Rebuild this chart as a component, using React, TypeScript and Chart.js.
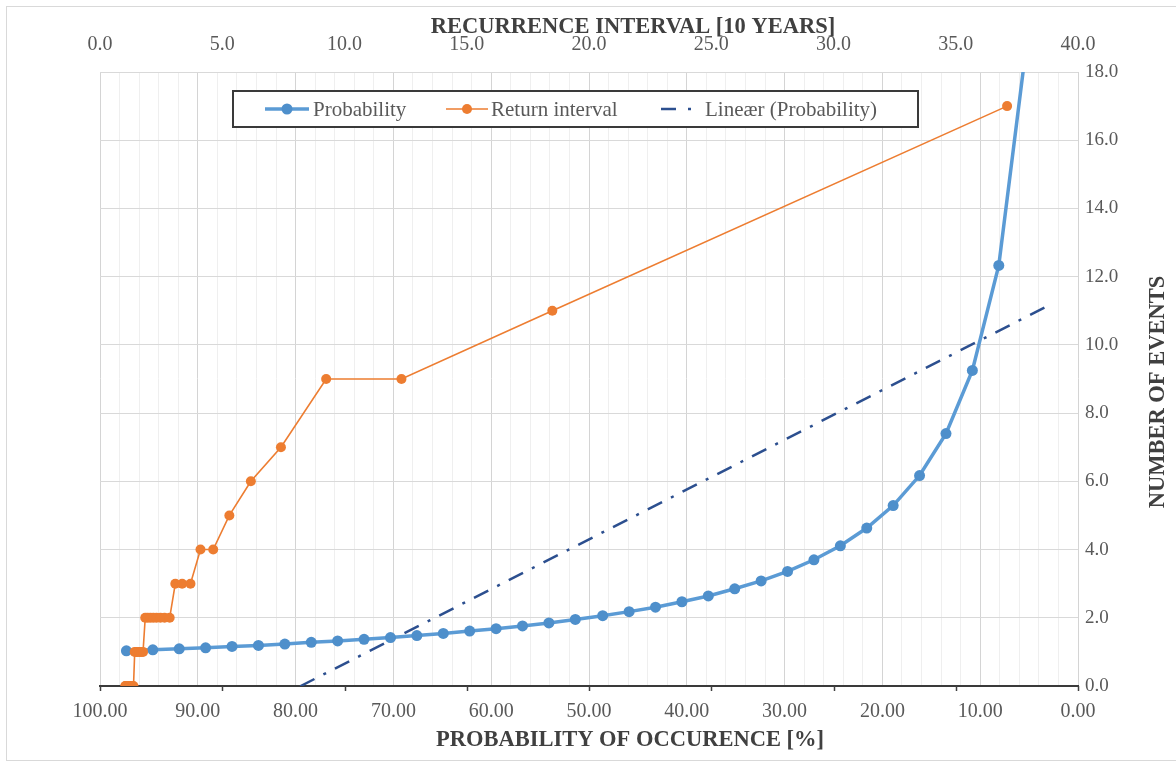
import React, { useEffect, useRef } from 'react';
import { Chart, registerables } from 'chart.js';

Chart.register(...registerables);

// ---- data ----
const probX = [97.3, 94.6, 91.9, 89.2, 86.5, 83.8, 81.1, 78.4, 75.7, 73.0, 70.3, 67.6, 64.9, 62.2, 59.5, 56.8, 54.1, 51.4, 48.6, 45.9, 43.2, 40.5, 37.8, 35.1, 32.4, 29.7, 27.0, 24.3, 21.6, 18.9, 16.2, 13.5, 10.8, 8.1, 5.4, 2.7];
const probY = [1.03, 1.06, 1.09, 1.12, 1.16, 1.19, 1.23, 1.28, 1.32, 1.37, 1.42, 1.48, 1.54, 1.61, 1.68, 1.76, 1.85, 1.95, 2.06, 2.18, 2.31, 2.47, 2.64, 2.85, 3.08, 3.36, 3.70, 4.11, 4.63, 5.29, 6.17, 7.40, 9.25, 12.33, 18.5, 37.0];

const retX = [1.03, 1.06, 1.09, 1.12, 1.16, 1.19, 1.23, 1.28, 1.32, 1.37, 1.42, 1.48, 1.54, 1.61, 1.68, 1.76, 1.85, 1.95, 2.06, 2.18, 2.31, 2.47, 2.64, 2.85, 3.08, 3.36, 3.70, 4.11, 4.63, 5.29, 6.17, 7.40, 9.25, 12.33, 18.5, 37.1];
const retY = [0, 0, 0, 0, 0, 0, 0, 0, 0, 0, 1, 1, 1, 1, 1, 1, 2, 2, 2, 2, 2, 2, 2, 2, 3, 3, 3, 4, 4, 5, 6, 7, 9, 9, 11, 17];

const trendX = [97.3, 2.7];
const trendY = [-2.6, 11.2];

const seriesNames = ['Probability', 'Return interval', 'Lineær (Probability)'];
const bottomTitle = 'PROBABILITY OF OCCURENCE [%]';
const topTitle = 'RECURRENCE INTERVAL [10 YEARS]';
const rightTitle = 'NUMBER OF EVENTS';

const FONT = '"Liberation Serif", "Times New Roman", serif';
const BLUE = '#5B9BD5';
const BLUE_DOT = '#4E8FCB';
const ORANGE = '#ED7D31';
const TREND = '#2C4F8F';
const TICK_COLOR = '#595959';
const TITLE_COLOR = '#404040';

const toPts = (xs: number[], ys: number[]) => xs.map((x, i) => ({ x, y: ys[i] }));

const decorPlugin = {
  id: 'decor',
  beforeDraw(chart: any) {
    const ctx = chart.ctx;
    ctx.save();
    ctx.fillStyle = '#ffffff';
    ctx.fillRect(0, 0, chart.width, chart.height);
    ctx.strokeStyle = '#D9D9D9';
    ctx.lineWidth = 1;
    ctx.strokeRect(6.5, 6.5, chart.width + 20, 754);
    ctx.restore();
  },
  afterDraw(chart: any) {
    const { ctx, chartArea: a, scales } = chart;
    const x2 = scales.x2;
    ctx.save();
    // small tick marks on the bottom axis line at top-axis intervals
    ctx.strokeStyle = '#404040';
    ctx.lineWidth = 1.5;
    x2.ticks.forEach((t: any) => {
      const px = Math.round(x2.getPixelForValue(t.value)) + 0.5;
      ctx.beginPath();
      ctx.moveTo(px, a.bottom);
      ctx.lineTo(px, a.bottom + 5);
      ctx.stroke();
    });

    // axis titles
    ctx.fillStyle = TITLE_COLOR;
    ctx.font = `bold 22.5px ${FONT}`;
    ctx.textAlign = 'center';
    ctx.textBaseline = 'alphabetic';
    ctx.fillText(topTitle, 633, 33);
    ctx.fillText(bottomTitle, 630, 746);
    ctx.save();
    ctx.translate(1158, 392);
    ctx.rotate(-Math.PI / 2);
    ctx.textBaseline = 'middle';
    ctx.fillText(rightTitle, 0, 0);
    ctx.restore();

    // legend box
    const lx = 233, ly = 91, lw = 685, lh = 36;
    ctx.fillStyle = '#ffffff';
    ctx.fillRect(lx, ly, lw, lh);
    ctx.strokeStyle = '#3A3A3A';
    ctx.lineWidth = 2;
    ctx.strokeRect(lx, ly, lw, lh);
    const cy = ly + lh / 2;
    ctx.font = `21px ${FONT}`;
    ctx.fillStyle = TICK_COLOR;
    ctx.textAlign = 'left';
    ctx.textBaseline = 'middle';

    // Probability
    ctx.strokeStyle = BLUE;
    ctx.lineWidth = 3.5;
    ctx.beginPath(); ctx.moveTo(265, cy); ctx.lineTo(309, cy); ctx.stroke();
    ctx.fillStyle = BLUE_DOT;
    ctx.beginPath(); ctx.arc(287, cy, 5.5, 0, Math.PI * 2); ctx.fill();
    ctx.fillStyle = TICK_COLOR;
    ctx.fillText(seriesNames[0], 313, cy + 1);

    // Return interval
    ctx.strokeStyle = ORANGE;
    ctx.lineWidth = 1.5;
    ctx.beginPath(); ctx.moveTo(446, cy); ctx.lineTo(488, cy); ctx.stroke();
    ctx.fillStyle = ORANGE;
    ctx.beginPath(); ctx.arc(467, cy, 5, 0, Math.PI * 2); ctx.fill();
    ctx.fillStyle = TICK_COLOR;
    ctx.fillText(seriesNames[1], 491, cy + 1);

    // trend
    ctx.strokeStyle = TREND;
    ctx.lineWidth = 2.5;
    ctx.beginPath(); ctx.moveTo(661, cy); ctx.lineTo(676, cy); ctx.stroke();
    ctx.beginPath(); ctx.moveTo(688, cy); ctx.lineTo(691, cy); ctx.stroke();
    ctx.fillStyle = TICK_COLOR;
    ctx.fillText(seriesNames[2], 705, cy + 1);

    ctx.restore();
  },
};

export default function App() {
  const canvasRef = useRef<HTMLCanvasElement | null>(null);

  useEffect(() => {
    if (!canvasRef.current) return;
    const chart = new Chart(canvasRef.current, {
      type: 'scatter',
      data: {
        datasets: [
          {
            label: seriesNames[1],
            data: toPts(retX, retY),
            xAxisID: 'x2',
            yAxisID: 'y',
            showLine: true,
            borderColor: ORANGE,
            backgroundColor: ORANGE,
            borderWidth: 1.6,
            pointRadius: 5,
            pointBorderWidth: 0,
            pointBackgroundColor: ORANGE,
            order: 0,
          },
          {
            label: seriesNames[0],
            data: toPts(probX, probY),
            xAxisID: 'x',
            yAxisID: 'y',
            showLine: true,
            borderColor: BLUE,
            backgroundColor: BLUE_DOT,
            borderWidth: 3.5,
            pointRadius: 5.5,
            pointBorderWidth: 0,
            pointBackgroundColor: BLUE_DOT,
            order: 1,
          },
          {
            label: seriesNames[2],
            data: toPts(trendX, trendY),
            xAxisID: 'x',
            yAxisID: 'y',
            showLine: true,
            borderColor: TREND,
            borderWidth: 2.5,
            borderDash: [16, 10, 3, 10],
            pointRadius: 0,
            order: 2,
            clip: 0,
          },
        ],
      },
      options: {
        animation: false,
        responsive: true,
        maintainAspectRatio: false,
        layout: { padding: { left: 100, right: 0, top: 0, bottom: 0 } },
        plugins: {
          legend: { display: false },
          tooltip: { enabled: false },
        },
        scales: {
          x: {
            type: 'linear',
            position: 'bottom',
            reverse: true,
            min: 0,
            max: 100,
            afterFit: (s: any) => { s.height = 83; },
            ticks: {
              stepSize: 2,
              autoSkip: false,
              maxRotation: 0,
              padding: 14,
              color: TICK_COLOR,
              font: { family: FONT, size: 20 },
              callback: (v: any) => (Math.abs(Number(v) % 10) < 1e-6 ? Number(v).toFixed(2) : ''),
            },
            grid: {
              drawTicks: false,
              lineWidth: 1,
              color: (c: any) => {
                const v = c.tick ? c.tick.value : 0;
                return Math.abs(v % 10) < 1e-6 ? '#D4D4D4' : '#EFEFEF';
              },
            },
            border: { display: true, color: '#3A3A3A', width: 2 },
          },
          x2: {
            type: 'linear',
            position: 'top',
            min: 0,
            max: 40,
            afterFit: (s: any) => { s.height = 72; },
            ticks: {
              stepSize: 5,
              maxRotation: 0,
              padding: 15,
              color: TICK_COLOR,
              font: { family: FONT, size: 20 },
              callback: (v: any) => Number(v).toFixed(1),
            },
            grid: { display: false, drawTicks: false, drawOnChartArea: false },
            border: { display: false },
          },
          y: {
            type: 'linear',
            position: 'right',
            min: 0,
            max: 18,
            afterFit: (s: any) => { s.width = 98; },
            ticks: {
              stepSize: 2,
              padding: 7,
              color: TICK_COLOR,
              font: { family: FONT, size: 19 },
              callback: (v: any) => Number(v).toFixed(1),
            },
            grid: { drawTicks: false, color: '#D9D9D9', lineWidth: 1 },
            border: { display: false },
          },
        },
      },
      plugins: [decorPlugin],
    });
    return () => chart.destroy();
  }, []);

  return (
    <div style={{ position: 'fixed', left: 0, top: 0, width: 1176, height: 769, background: '#fff' }}>
      <canvas ref={canvasRef} />
    </div>
  );
}
